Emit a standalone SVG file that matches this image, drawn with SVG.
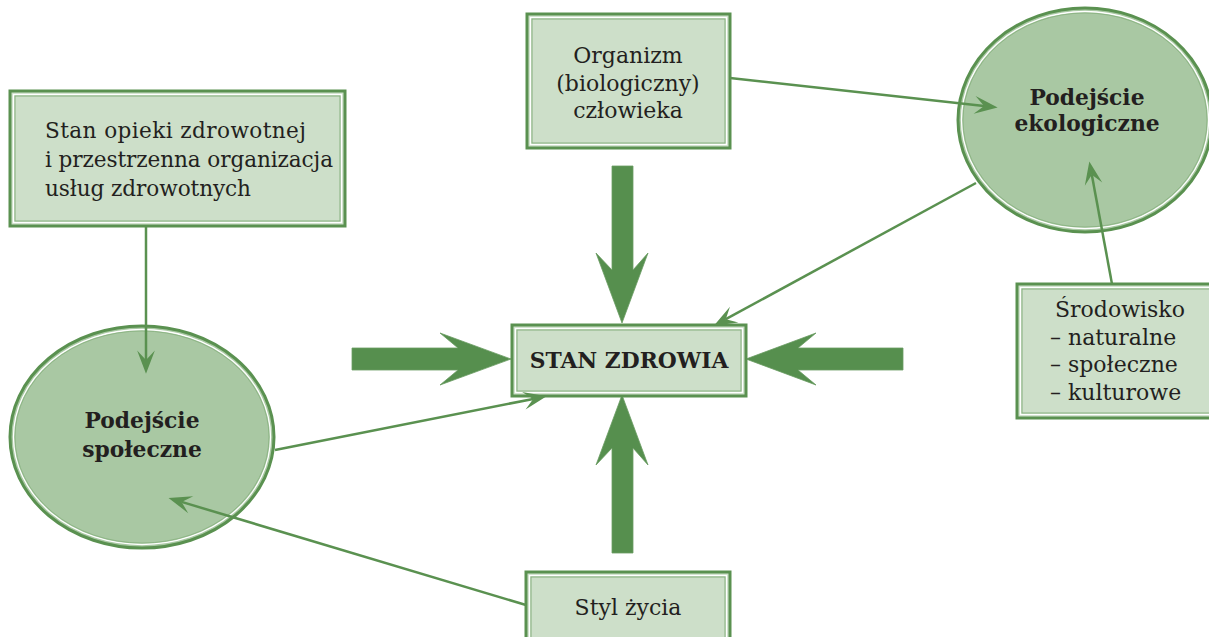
<svg xmlns="http://www.w3.org/2000/svg" width="1209" height="637" viewBox="0 0 1209 637">
<style>
.box{fill:#cddfc9;stroke:#5a9150;stroke-width:3}
.in1{fill:none;stroke:#ffffff;stroke-width:1.3}
.in2{fill:none;stroke:#86b07e;stroke-width:1}
.ell{fill:#a9c8a3;stroke:#5a9150;stroke-width:3}
.t{font-family:"DejaVu Serif","Liberation Serif",serif;font-size:22px;fill:#231f20}
.t2{font-size:21.6px}
.b{font-family:"DejaVu Serif","Liberation Serif",serif;font-size:21.8px;font-weight:bold;fill:#231f20}
.c{text-anchor:middle}
.ln{fill:none;stroke:#5a9150;stroke-width:2.5}
.big{fill:#568f4e;stroke:#6a9c62;stroke-width:0.8}
</style>
<defs>
<marker id="ah" markerUnits="userSpaceOnUse" markerWidth="30" markerHeight="30" refX="0" refY="0" viewBox="-10 -10 22 20" orient="auto" overflow="visible">
<path d="M10,0 L-7,-6.5 L0,0 L-7,6.5 Z" fill="#5a9150"/>
</marker>
</defs>

<g id="connectors">
<polygon class="big" points="612,166 633,166 633,270 648,253 622,323 596,253 612,270"/>
<polygon class="big" points="612,553 633,553 633,448 648,465 622,395 596,465 612,448"/>
<polygon class="big" points="352,348 458,348 440,333 511,359 440,385 458,370 352,370"/>
<polygon class="big" points="903,348 798,348 816,333 746,359 816,385 798,370 903,370"/>
</g>

<g id="node-organizm">
<rect class="box" x="527" y="14" width="203" height="134"/>
<rect class="in1" x="530.5" y="17.5" width="196" height="127"/>
<rect class="in2" x="532" y="19" width="193" height="124"/>
<text class="t c" x="628" y="63">Organizm</text>
<text class="t c" x="628" y="90.5">(biologiczny)</text>
<text class="t c" x="628" y="118">człowieka</text>
</g>

<g id="node-opieka">
<rect class="box" x="10" y="91" width="335" height="135"/>
<rect class="in1" x="13.5" y="94.5" width="328" height="128"/>
<rect class="in2" x="15" y="96" width="325" height="125"/>
<text class="t t2" x="45" y="138" textLength="261" lengthAdjust="spacing">Stan opieki zdrowotnej</text>
<text class="t t2" x="45" y="167" textLength="288" lengthAdjust="spacing">i przestrzenna organizacja</text>
<text class="t t2" x="45" y="196" textLength="206" lengthAdjust="spacing">usług zdrowotnych</text>
</g>

<g id="node-ekologiczne">
<ellipse class="ell" cx="1085" cy="120" rx="127" ry="112"/>
<ellipse fill="none" stroke="#ffffff" stroke-width="1.3" cx="1085" cy="120" rx="123.5" ry="108.5"/>
<ellipse fill="none" stroke="#86b07e" stroke-width="0.8" cx="1085" cy="120" rx="122" ry="107"/>
<text class="b c" x="1087" y="105">Podejście</text>
<text class="b c" x="1087" y="131">ekologiczne</text>
</g>

<g id="node-spoleczne">
<ellipse class="ell" cx="142" cy="437" rx="132" ry="111"/>
<ellipse fill="none" stroke="#ffffff" stroke-width="1.3" cx="142" cy="437" rx="128.5" ry="107.5"/>
<ellipse fill="none" stroke="#86b07e" stroke-width="0.8" cx="142" cy="437" rx="127" ry="106"/>
<text class="b c" x="142" y="428">Podejście</text>
<text class="b c" x="142" y="457">społeczne</text>
</g>

<g id="node-stan">
<rect class="box" x="512" y="325" width="234" height="71"/>
<rect class="in1" x="515.5" y="328.5" width="227" height="64"/>
<rect class="in2" x="517" y="330" width="224" height="61"/>
<text class="b c" x="629" y="368">STAN ZDROWIA</text>
</g>

<g id="node-srodowisko">
<rect class="box" x="1017" y="284" width="200" height="134"/>
<rect class="in1" x="1020.5" y="287.5" width="193" height="127"/>
<rect class="in2" x="1022" y="289" width="190" height="124"/>
<text class="t" x="1055" y="317">Środowisko</text>
<text class="t" x="1050" y="345">– naturalne</text>
<text class="t" x="1050" y="372">– społeczne</text>
<text class="t" x="1050" y="400">– kulturowe</text>
</g>

<g id="node-styl">
<rect class="box" x="526" y="572" width="204" height="80"/>
<rect class="in1" x="529.5" y="575.5" width="197" height="73"/>
<rect class="in2" x="531" y="577" width="194" height="70"/>
<text class="t c" x="628" y="615">Styl życia</text>
</g>

<g id="thin-connectors">
<line class="ln" x1="146" y1="227" x2="146" y2="360" marker-end="url(#ah)"/>
<line class="ln" x1="275" y1="450" x2="533.2" y2="398.9" marker-end="url(#ah)"/>
<line class="ln" x1="526" y1="605" x2="181.6" y2="501.9" marker-end="url(#ah)"/>
<line class="ln" x1="730" y1="78" x2="984.1" y2="105.9" marker-end="url(#ah)"/>
<line class="ln" x1="976" y1="183" x2="725.8" y2="319.2" marker-end="url(#ah)"/>
<line class="ln" x1="1112" y1="284" x2="1091.8" y2="174.8" marker-end="url(#ah)"/>
</g>
</svg>
